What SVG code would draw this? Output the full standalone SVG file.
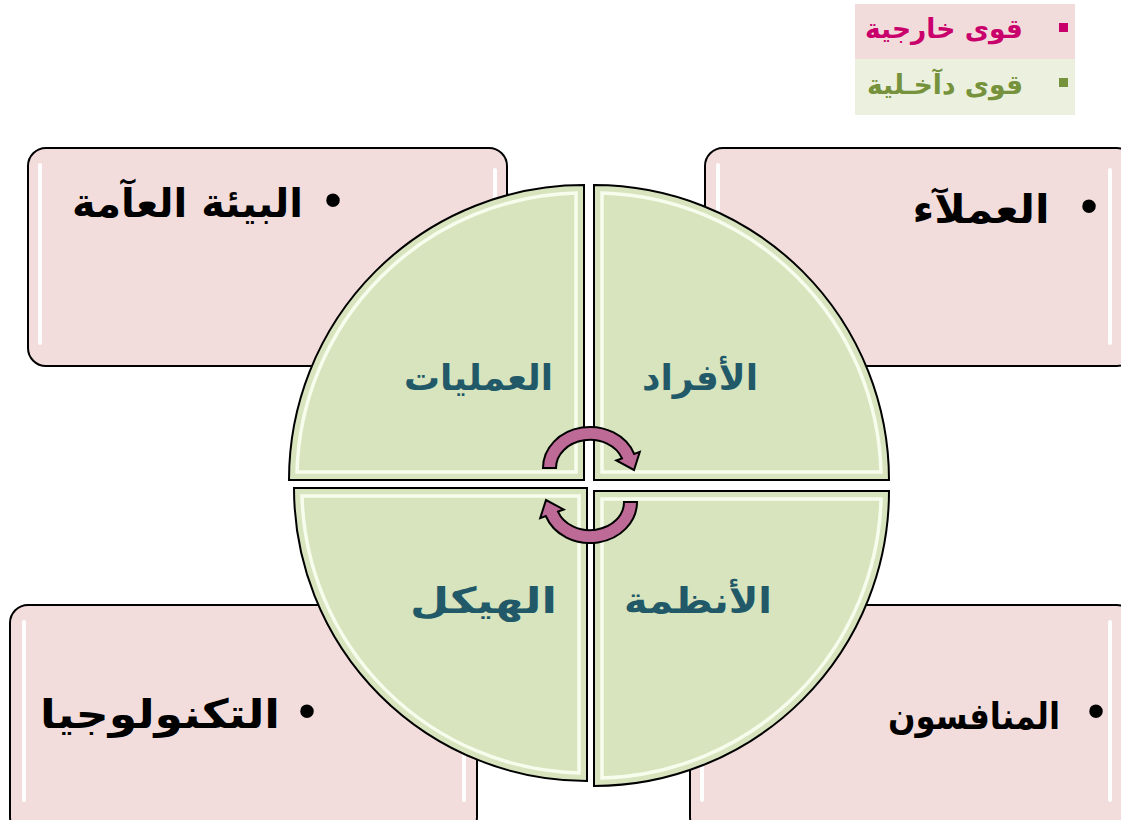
<svg xmlns="http://www.w3.org/2000/svg" width="1121" height="820" viewBox="0 0 1121 820">
<style>
.box{fill:#f2dddc;stroke:#000;stroke-width:2}
.hl{stroke:#fff;stroke-width:4;stroke-linecap:round;fill:none;opacity:0.95}
.quad{fill:#d7e4bd;stroke:#000;stroke-width:2}
.bev{fill:none;stroke:#fbfff2;stroke-width:3.5;opacity:0.9}
.btxt{font-family:"DejaVu Sans",sans-serif;font-weight:bold;font-size:40px;fill:#000;text-anchor:middle}
.bul{font-family:"Liberation Sans",sans-serif;font-size:50px;fill:#000;text-anchor:middle}
.qtxt{font-family:"DejaVu Sans",sans-serif;font-weight:bold;font-size:36px;fill:#215968;text-anchor:middle}
.arr{fill:#bd6b96;stroke:#000;stroke-width:2;stroke-linejoin:miter}
.ltxt{font-family:"DejaVu Sans",sans-serif;font-weight:bold;font-size:27px;text-anchor:middle}
</style>
<rect width="1121" height="820" fill="#fff"/>

<g id="legend">
  <rect x="855" y="4" width="220" height="55" fill="#f2dcdb"/>
  <rect x="855" y="59" width="220" height="56" fill="#ebf1de"/>
  <rect x="1059" y="23" width="9" height="9" fill="#c9006b"/>
  <rect x="1059" y="78" width="9" height="9" fill="#76923c"/>
  <text class="ltxt" x="944" y="38" fill="#c9006b" textLength="158" lengthAdjust="spacingAndGlyphs">قوى خارجية</text>
  <text class="ltxt" x="945" y="94" fill="#76923c" textLength="156" lengthAdjust="spacingAndGlyphs">قوى دآخـلية</text>
</g>

<g id="box-tl">
  <rect class="box" x="28" y="148" width="479" height="218" rx="18"/>
  <line class="hl" x1="40" y1="165" x2="40" y2="343"/>
  <line class="hl" x1="495" y1="170" x2="495" y2="343"/>
  <text class="bul" x="333" y="217">•</text>
  <text class="btxt" x="187.5" y="217" textLength="231" lengthAdjust="spacingAndGlyphs">البيئة العآمة</text>
</g>
<g id="box-tr">
  <rect class="box" x="705" y="148" width="430" height="218" rx="18"/>
  <line class="hl" x1="718" y1="165" x2="718" y2="343"/>
  <line class="hl" x1="1110" y1="170" x2="1110" y2="343"/>
  <text class="bul" x="1089" y="223">•</text>
  <text class="btxt" x="981" y="223" textLength="137" lengthAdjust="spacingAndGlyphs">العملآء</text>
</g>
<g id="box-bl">
  <rect class="box" x="10" y="605" width="467" height="230" rx="18"/>
  <line class="hl" x1="24" y1="622" x2="24" y2="800"/>
  <line class="hl" x1="464" y1="622" x2="464" y2="800"/>
  <text class="bul" x="307" y="728">•</text>
  <text class="btxt" x="160" y="728" textLength="240" lengthAdjust="spacingAndGlyphs">التكنولوجيا</text>
</g>
<g id="box-br">
  <rect class="box" x="690" y="605" width="445" height="230" rx="18"/>
  <line class="hl" x1="702" y1="622" x2="702" y2="800"/>
  <line class="hl" x1="1110" y1="622" x2="1110" y2="800"/>
  <text class="bul" x="1096" y="728">•</text>
  <text class="btxt" x="974" y="729" style="font-size:37px" textLength="172" lengthAdjust="spacingAndGlyphs">المنافسون</text>
</g>

<g id="q-afrad">
  <path class="quad" d="M594,480 L594,185 A295,295 0 0 1 889,480 Z"/>
  <path class="bev" d="M602,472 L602,193 A287,287 0 0 1 881,472 Z"/>
  <text class="qtxt" x="700" y="390" textLength="116" lengthAdjust="spacingAndGlyphs">الأفراد</text>
</g>
<g id="q-amaliyat">
  <path class="quad" d="M584,480 L289,480 A295,295 0 0 1 584,185 Z"/>
  <path class="bev" d="M576,472 L297,472 A287,287 0 0 1 576,193 Z"/>
  <text class="qtxt" x="478.5" y="390" textLength="149" lengthAdjust="spacingAndGlyphs">العمليات</text>
</g>
<g id="q-haykal">
  <path class="quad" d="M587,488 L587,781 A293,293 0 0 1 294,488 Z"/>
  <path class="bev" d="M579,496 L579,773 A285,285 0 0 1 302,496 Z"/>
  <text class="qtxt" x="483.5" y="613" textLength="147" lengthAdjust="spacingAndGlyphs">الهيكل</text>
</g>
<g id="q-anthema">
  <path class="quad" d="M594,491 L889,491 A295,295 0 0 1 594,786 Z"/>
  <path class="bev" d="M602,499 L881,499 A287,287 0 0 1 602,778 Z"/>
  <text class="qtxt" x="698" y="613" textLength="148" lengthAdjust="spacingAndGlyphs">الأنظمة</text>
</g>

<g id="connectors">
  <path id="arrow-bottom" class="arr" d="M637,502 A47,41 0 0 1 545.8,516 L540.2,518.1 L546,500 L563.7,509.5 L558,511.6 A34,28 0 0 0 624,502 Z"/>
  <path id="arrow-top" class="arr" transform="rotate(180 590 485)" d="M637,502 A47,41 0 0 1 545.8,516 L540.2,518.1 L546,500 L563.7,509.5 L558,511.6 A34,28 0 0 0 624,502 Z"/>
</g>
</svg>
